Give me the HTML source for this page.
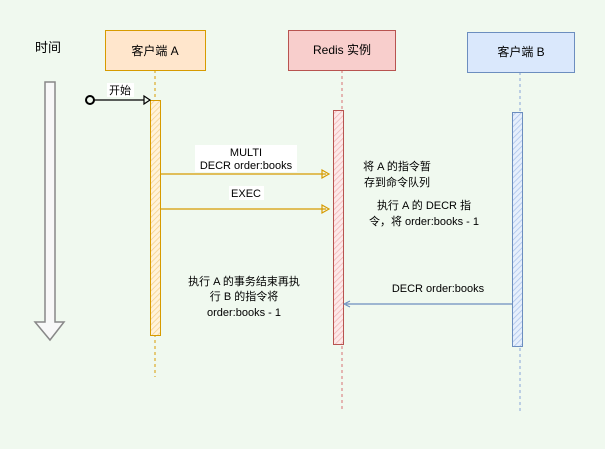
<!DOCTYPE html>
<html><head><meta charset="utf-8"><style>
html,body{margin:0;padding:0;background:#f0f9ef;}
svg text{font-family:"Liberation Sans","Noto Sans CJK SC",sans-serif;font-size:11px;fill:#000;}
svg text.h{font-size:12px;}
</style></head><body>
<svg width="605" height="444" viewBox="0 0 605 444" xmlns="http://www.w3.org/2000/svg">
<defs>
<pattern id="hy" width="4" height="4" patternUnits="userSpaceOnUse" patternTransform="rotate(45)"><rect width="4" height="4" fill="#fff3da"/><line x1="0" y1="0" x2="0" y2="4" stroke="#f5cf8a" stroke-width="1.5"/></pattern>
<pattern id="hr" width="4" height="4" patternUnits="userSpaceOnUse" patternTransform="rotate(45)"><rect width="4" height="4" fill="#fde8e8"/><line x1="0" y1="0" x2="0" y2="4" stroke="#f1b3b3" stroke-width="1.5"/></pattern>
<pattern id="hb" width="4" height="4" patternUnits="userSpaceOnUse" patternTransform="rotate(45)"><rect width="4" height="4" fill="#e6effc"/><line x1="0" y1="0" x2="0" y2="4" stroke="#a9c2ea" stroke-width="1.5"/></pattern>
</defs>
<rect width="605" height="444" fill="#f0f9ef"/>
<text x="35" y="52" style="font-size:13px">时间</text>
<path d="M45,82 H55 V322 H64 L50,340 L35,322 H45 Z" fill="#f8f8f8" stroke="#888" stroke-width="1.5"/>
<line x1="155" y1="70" x2="155" y2="377" stroke="#d79b00" stroke-dasharray="3,3"/>
<line x1="342" y1="70" x2="342" y2="410" stroke="#d88" stroke-dasharray="3,3" stroke-width="1.2"/>
<line x1="520" y1="72" x2="520" y2="412" stroke="#9ab3dc" stroke-dasharray="3,3" stroke-width="1.2"/>
<rect x="105.5" y="30.5" width="100" height="40" fill="#ffe6cc" stroke="#d79b00"/>
<text class="h" x="155" y="55" text-anchor="middle">客户端 A</text>
<rect x="288.5" y="30.5" width="107" height="40" fill="#f8cecc" stroke="#b85450"/>
<text class="h" x="342" y="54" text-anchor="middle">Redis 实例</text>
<rect x="467.5" y="32.5" width="107" height="40" fill="#dae8fc" stroke="#6c8ebf"/>
<text class="h" x="521" y="56" text-anchor="middle">客户端 B</text>
<rect x="150.5" y="100.5" width="10" height="235" fill="url(#hy)" stroke="#d79b00"/>
<rect x="333.5" y="110.5" width="10" height="234" fill="url(#hr)" stroke="#b85450"/>
<rect x="512.5" y="112.5" width="10" height="234" fill="url(#hb)" stroke="#6c8ebf"/>
<circle cx="90" cy="100" r="4" fill="none" stroke="#000" stroke-width="2"/>
<line x1="94" y1="100" x2="144" y2="100" stroke="#000" stroke-width="1.2"/>
<path d="M144,96 L150,100 L144,104 Z" fill="none" stroke="#000" stroke-width="1.2"/>
<rect x="107" y="83" width="27" height="14" fill="#fff"/>
<text x="120" y="94" text-anchor="middle">开始</text>
<line x1="161" y1="174" x2="326" y2="174" stroke="#d79b00" stroke-width="1.2"/>
<path d="M322,170 L329,174 L322,178 Z" fill="none" stroke="#d79b00" stroke-width="1.2"/>
<rect x="195" y="145" width="102" height="27" fill="#fff"/>
<text x="246" y="156" text-anchor="middle">MULTI</text>
<text x="246" y="169" text-anchor="middle">DECR order:books</text>
<line x1="161" y1="209" x2="326" y2="209" stroke="#d79b00" stroke-width="1.2"/>
<path d="M322,205 L329,209 L322,213 Z" fill="none" stroke="#d79b00" stroke-width="1.2"/>
<rect x="229" y="186" width="35" height="14" fill="#fff"/>
<text x="246" y="197" text-anchor="middle">EXEC</text>
<line x1="512" y1="304" x2="346" y2="304" stroke="#6c8ebf" stroke-width="1.2"/>
<path d="M350,301 L344,304 L350,307" fill="none" stroke="#6c8ebf"/>
<text x="438" y="292" text-anchor="middle">DECR order:books</text>
<text x="397" y="170" text-anchor="middle">将 A 的指令暂</text>
<text x="397" y="186" text-anchor="middle">存到命令队列</text>
<text x="424" y="209" text-anchor="middle">执行 A 的 DECR 指</text>
<text x="424" y="225" text-anchor="middle">令，将 order:books - 1</text>
<text x="244" y="285" text-anchor="middle">执行 A 的事务结束再执</text>
<text x="244" y="300" text-anchor="middle">行 B 的指令将</text>
<text x="244" y="316" text-anchor="middle">order:books - 1</text>
</svg>
</body></html>
